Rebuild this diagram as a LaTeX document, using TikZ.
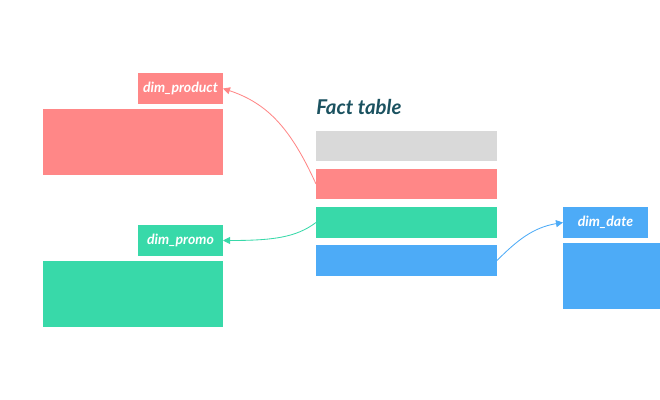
\documentclass[tikz,border=0pt]{standalone}
\usepackage{fontspec}
\setmainfont{Lato}
\usetikzlibrary{arrows.meta}
\definecolor{dimred}{HTML}{FF8787}
\definecolor{dimgreen}{HTML}{38D9A9}
\definecolor{dimblue}{HTML}{4DABF7}
\definecolor{rowgrey}{HTML}{D9D9D9}
\definecolor{titleteal}{HTML}{1B5260}
\newcommand{\px}{0.025cm}
\tikzset{
  box/.style={anchor=north west, inner sep=0pt, outer sep=0pt},
  tag/.style={box, minimum width=85*\px, minimum height=31*\px, text=white,
    font=\fontsize{10}{11}\selectfont\bfseries\itshape},
  link/.style={-{Triangle[length=5pt,width=5pt]}, line width=0.6pt}
}
\begin{document}
\begin{tikzpicture}[x=\px, y=-\px]
  \useasboundingbox (0,0) rectangle (660,400);

  % fact table
  \node[anchor=west, text=titleteal, font=\fontsize{14.5}{16}\selectfont\bfseries\itshape,
    inner sep=0pt] (title) at (316,107) {Fact table};
  \node[box, fill=rowgrey, minimum width=181*\px, minimum height=30*\px] (rgrey) at (316,131) {};
  \node[box, fill=dimred, minimum width=181*\px, minimum height=30*\px] (rred) at (316,169) {};
  \node[box, fill=dimgreen, minimum width=181*\px, minimum height=31*\px] (rgreen) at (316,207) {};
  \node[box, fill=dimblue, minimum width=181*\px, minimum height=31*\px] (rblue) at (316,245) {};

  % dim_product
  \node[tag, fill=dimred] (product) at (138,73) {dim\_product};
  \node[box, fill=dimred, minimum width=180*\px, minimum height=66*\px] (productbody) at (43,109) {};

  % dim_promo
  \node[tag, fill=dimgreen] (promo) at (138,225) {dim\_promo};
  \node[box, fill=dimgreen, minimum width=180*\px, minimum height=66*\px] (promobody) at (43,261) {};

  % dim_date
  \node[tag, fill=dimblue] (date) at (563,207) {dim\_date};
  \node[box, fill=dimblue, minimum width=97*\px, minimum height=66*\px] (datebody) at (563,243) {};

  % links
  \draw[link, dimred] (rred.west) .. controls +(-25,-55) and +(45,15) .. (product.east);
  \draw[link, dimgreen] (rgreen.west) .. controls +(-20,15) and +(50,0) .. (promo.east);
  \draw[link, dimblue] (rblue.east) .. controls +(20,-20) and +(-30,5) .. (date.west);
\end{tikzpicture}
\end{document}
